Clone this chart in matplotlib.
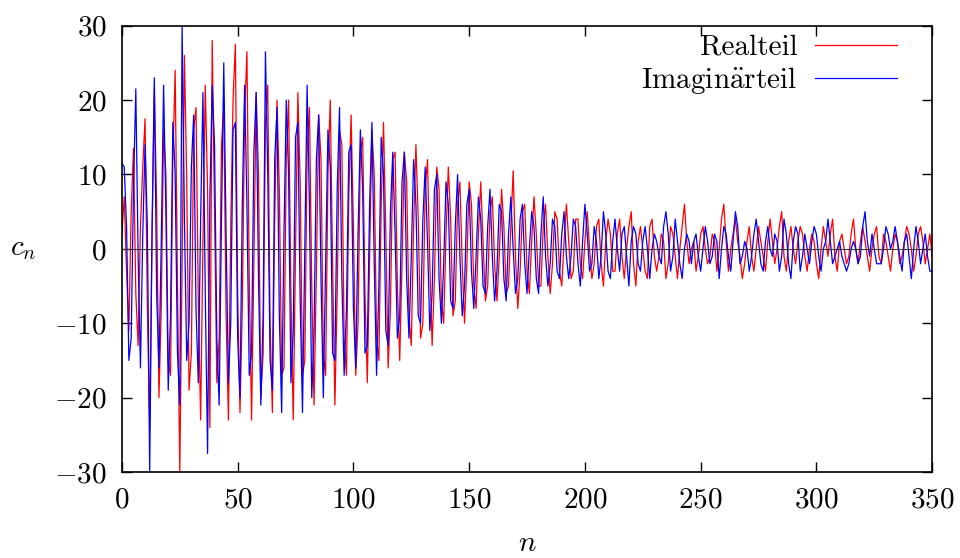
import numpy as np
import matplotlib
matplotlib.use('Agg')
import matplotlib.pyplot as plt

plt.rcParams['font.family'] = ['cmr10', 'DejaVu Serif']
plt.rcParams['mathtext.fontset'] = 'cm'
plt.rcParams['axes.formatter.use_mathtext'] = True
plt.rcParams['font.size'] = 21

re = [2, 7, -3, -11, 5, 13.5, -6, -13, 3, 11,
      17.5, -8, -24, 2, 21.5, 6, -20, -8, 16, 10,
      -15, -17, 12, 24, -5, -30, -2, 26, 9, -19,
      -14, 16, 19, -7, -23, 1, 22, 8, -24, 28,
      5, -18, -12, 14, 19, -9, -23, 3, 20, 27.5,
      -6, -22, -8, 18, 26.5, -4, -23, -2, 21, 10,
      -20, -14, 17, 22, -10, -22, 4, 20, 8, -17,
      -16, 12, 20, -6, -23, 0, 21, 9, -17, -15,
      13, 19, -5, -21, -3, 18, 12, -14, -17, 10,
      20, -2, -21, -6, 16, 14, -12, -17, 7, 18,
      3, -17, -10, 13, 15, -6, -18, -1, 16, 10,
      -12, -15, 6, 17, 2, -16, -8, 12, 13, -5,
      -15, -2, 13, 9, -9, -13, 3, 14, 4, -12,
      -10, 8, 12, -2, -13, -4, 11, 8, -7, -10,
      2, 11, 4, -9, -7, 6, 9, -2, -10, -2,
      9, 6, -5, -8, 2, 9, 1, -7, -5, 5,
      7, -2, -7, -1, 8, 3, -6, -5, 3, 10.5,
      -1, -8, -3, 5, 6, -3, -6, 1, 7, 2,
      -5, -5, 3, 6, -1, -6, -2, 5, 4, -3,
      -5, 1, 6, 1, -4, -3, 4, 4, -2, -4,
      1, 5, 0, -4, -2, 3, 4, -2, -5, 1,
      4, 2, -3, -3, 2, 4, -1, -4, 0, 3,
      5, -2, -5, 1, 3, 0, -3, -4, 3, 4,
      -1, -3, -1, 2, 1, -4, -2, 3, 2, -1,
      -4, 0, 3, 6, 1, -2, 0, 1, -3, -1,
      2, 3, 0, -2, -1, 2, 1, -3, 0, 4,
      6, 1, -3, 0, 2, 4, 1, -1, -4, -2,
      1, 3, -1, -3, 0, 3, 1, -1, -3, 1,
      4, 1, -2, 0, 3, 5, -1, -3, 1, 3,
      0, -2, 1, 3, 2, -1, -3, 0, 2, 1,
      -2, -4, 0, 3, 1, -1, 2, 4, -1, -3,
      1, 2, 0, -2, -1, 2, 4, 0, -2, 1,
      3, 1, -1, -3, 0, 2, 3, -1, -2, 2,
      1, -1, -3, 0, 2, 1, -2, -1, 1, 3,
      2, 0, -3, -1, 2, 3, 1, -2, 0, 2,
      -1]

# imaginary part
im = [11.5, 11, 3, -15, -12, 8, 21.5, -1, -16, 2,
      14, 3, -30, 2, 23, -6, -16, 1, 22, 5,
      -19, -9, 17, 10, -14, -21, 30, 4, -15, -10,
      11, 18, -8, -18, 4, 21, -6, -27.5, 7, 22,
      14, -12, -21, 4, 25, 2, -18, -10, 16, 17,
      -12, -20, 6, 22, 6, -17, -14, 13, 21, -4,
      -21, -9, 26.5, 10, -15, -19, 12, 19, -9, -22,
      2, 20, 10, -18, -11, 15, 17, -7, -22, 0,
      22, 6, -20, -11, 12, 18, -4, -20, -2, 16,
      11, -14, -15, 8, 19, -4, -17, -8, 13, 14,
      -8, -16, 2, 16, 8, -14, -13, 6, 17, -2,
      -17, -5, 15, 10, -11, -13, 5, 13, 2, -12,
      -9, 9, 13, -4, -12, -1, 12, 6, -9, -10,
      4, 11, 1, -11, -6, 8, 10, -4, -10, -2,
      9, 6, -7, -8, 3, 10, -1, -9, -5, 6,
      8, -3, -8, -1, 7, 4, -5, -6, 3, 8,
      -1, -7, -3, 6, 5, -4, -7, 2, 7, 0,
      -6, -4, 4, 6, -2, -6, 0, 5, 3, -4,
      -6, 2, 7, -1, -5, -2, 4, 3, -3, -4,
      2, 5, -1, -4, -1, 4, 3, -2, -5, 1,
      6, 2, -3, -2, 3, 1, -4, -1, 5, 2,
      -3, -4, 1, 4, 0, -3, 2, 3, -1, -5,
      1, 3, 2, -2, -3, 1, 3, 0, -4, 0,
      2, 1, -1, -2, 3, 5, 2, -3, -1, 4,
      1, -2, -4, 0, 2, 1, -2, 1, 2, -1,
      -3, 0, 3, 1, -2, -1, 2, 1, -4, 0,
      3, 2, -1, -3, 1, 5, 3, -2, -1, 1,
      0, -3, -1, 2, 4, 1, -2, -3, 1, 3,
      0, -1, 2, 1, -3, -1, 4, 2, -2, -4,
      1, 3, 2, -3, -1, 2, 0, -2, 1, 3,
      2, -1, -3, 0, 1, 4, 1, -2, -1, 0,
      1, -1, -2, -3, -2, 0, 1, 0, -2, -1,
      3, 5, 1, -1, 2, 0, -2, -2, -2, 0,
      3, 2, 0, 1, 3, 1, -1, -3, 1, 2,
      -1, -4, 0, 3, 1, -2, 0, 2, -1, -3,
      -3]

n = np.arange(len(re))

fig = plt.figure(figsize=(9.6, 5.58), dpi=100)
ax = fig.add_axes([0.127, 0.154, 0.844, 0.8])

ax.plot(n, re, color='#ff0000', lw=0.9, label='Realteil')
ax.plot(n, im, color='#0000ff', lw=0.9, label=r'Imagin$\ddot{\mathrm{a}}$rteil')
ax.axhline(0, color='#333333', lw=0.7, zorder=5)

ax.set_xlim(0, 350)
ax.set_ylim(-30, 30)
ax.set_xticks(range(0, 351, 50))
ax.set_yticks(range(-30, 31, 10))
ax.tick_params(direction='in', length=7, width=1, top=True, right=True, pad=11)
for s in ax.spines.values():
    s.set_linewidth(1.2)

ax.set_xlabel('$n$', labelpad=12)
ax.set_ylabel('$c_n$', rotation=0, labelpad=22, va='center')

ax.legend(loc='upper right', frameon=False, markerfirst=False,
          handlelength=2.8, handletextpad=0.6, labelspacing=0.15,
          borderaxespad=0.0, borderpad=0.3, fontsize=21,
          bbox_to_anchor=(0.967, 1.0))

plt.savefig('out.png')
